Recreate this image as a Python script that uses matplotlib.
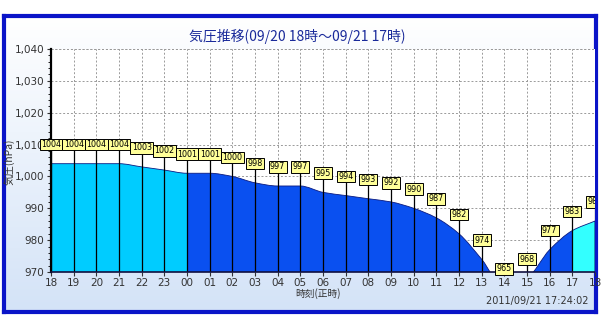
import numpy as np
import matplotlib
matplotlib.use('Agg')
import matplotlib.pyplot as plt
from matplotlib.path import Path
from matplotlib.patches import PathPatch, Rectangle

plt.rcParams['font.family'] = ['Noto Sans CJK JP', 'DejaVu Sans']

# hourly pressure, 09/20 18:00 -> 09/21 18:00
hour_labels = ['18', '19', '20', '21', '22', '23', '00', '01', '02', '03', '04', '05',
               '06', '07', '08', '09', '10', '11', '12', '13', '14', '15', '16', '17', '18']
pressure = [1004, 1004, 1004, 1004, 1003, 1002, 1001, 1001, 1000, 998, 997, 997,
            995, 994, 993, 992, 990, 987, 982, 974, 965, 968, 977, 983, 986]
ytick_values = [970, 980, 990, 1000, 1010, 1020, 1030, 1040]
ytick_labels = ['970', '980', '990', '1,000', '1,010', '1,020', '1,030', '1,040']

# colour bands: (start hour index, end hour index, colour)
bands = [(0, 6, '#00ccff'), (6, 23, '#0a50f0'), (23, 24, '#33ffff')]

title = '気圧推移(09/20 18時～09/21 17時)'
stamp = '2011/09/21 17:24:02'


def monotone_slopes(xs, ys):
    # Fritsch-Carlson tangents so flat runs stay flat
    xs = np.asarray(xs, float)
    ys = np.asarray(ys, float)
    d = np.diff(ys) / np.diff(xs)
    m = np.zeros_like(ys)
    m[0], m[-1] = d[0], d[-1]
    for i in range(1, len(ys) - 1):
        if d[i - 1] * d[i] > 0:
            m[i] = 2.0 / (1.0 / d[i - 1] + 1.0 / d[i])
    return m


def smooth_path(xs, ys, base):
    m = monotone_slopes(xs, ys)
    verts = [(xs[0], base), (xs[0], ys[0])]
    codes = [Path.MOVETO, Path.LINETO]
    for i in range(len(xs) - 1):
        h = xs[i + 1] - xs[i]
        verts += [(xs[i] + h / 3, ys[i] + m[i] * h / 3),
                  (xs[i + 1] - h / 3, ys[i + 1] - m[i + 1] * h / 3),
                  (xs[i + 1], ys[i + 1])]
        codes += [Path.CURVE4] * 3
    verts += [(xs[-1], base), (xs[0], base)]
    codes += [Path.LINETO, Path.CLOSEPOLY]
    return Path(verts, codes)


fig = plt.figure(figsize=(6.06, 3.33), dpi=100)

# framed panel with a soft white-to-blue gradient
bg = fig.add_axes([4 / 606, 21 / 333, 592 / 606, 296 / 333], zorder=-1)
grad = np.linspace(0, 1, 256).reshape(-1, 1)
top = np.array([1.0, 1.0, 1.0])
bot = np.array([0.83, 0.89, 0.97])
img = top + (bot - top) * grad[:, :, None]
bg.imshow(img, aspect='auto', extent=[0, 1, 0, 1], origin='upper')
bg.set_xticks([])
bg.set_yticks([])
for s in bg.spines.values():
    s.set_color('#0a14c8')
    s.set_linewidth(3)

ax = fig.add_axes([51 / 606, 61 / 333, 544 / 606, 223 / 333])
ax.set_facecolor('white')
x = np.arange(len(pressure))
ax.set_xlim(0, 24)
ax.set_ylim(970, 1040)

path = smooth_path(x, pressure, 950)
for x0, x1, col in bands:
    patch = PathPatch(path, facecolor=col, edgecolor='none', zorder=2)
    ax.add_patch(patch)
    patch.set_clip_path(Rectangle((x0, 970), x1 - x0, 70, transform=ax.transData))
edge = PathPatch(path, facecolor='none', edgecolor='#0a1a80', lw=0.6, zorder=2.5)
ax.add_patch(edge)
edge.set_clip_path(Rectangle((0, 970), 24, 70, transform=ax.transData))

# value tags on sticks
for xi, v in zip(x, pressure):
    ax.plot([xi, xi], [970, v + 6], color='black', lw=0.9, zorder=3)
    ax.text(xi, v + 6, str(v), ha='center', va='center', fontsize=5.8,
            family='DejaVu Sans', zorder=6, clip_on=(xi == x[-1]),
            bbox=dict(boxstyle='square,pad=0.16', fc='#ffff99', ec='black', lw=0.7))

ax.set_xticks(x)
ax.set_xticklabels(hour_labels)
ax.set_yticks(ytick_values)
ax.set_yticklabels(ytick_labels)
ax.set_yticks(np.arange(970, 1041, 2), minor=True)
ax.tick_params(axis='both', labelsize=7.5, labelcolor='#333333', colors='#333333',
               length=3, width=0.8, direction='out', pad=2)
ax.tick_params(axis='y', which='minor', length=2, width=0.6)
ax.tick_params(axis='x', pad=1)
for lab in ax.get_xticklabels() + ax.get_yticklabels():
    lab.set_family('DejaVu Sans')

ax.grid(True, color='#9a9a9a', lw=0.7, linestyle=(0, (2, 2)), zorder=0)
ax.set_axisbelow(True)
ax.spines['top'].set_visible(False)
ax.spines['right'].set_visible(False)
ax.spines['left'].set_color('black')
ax.spines['left'].set_linewidth(1.6)
ax.spines['bottom'].set_color('#101040')
ax.spines['bottom'].set_linewidth(1.2)
ax.spines['bottom'].set_linestyle((0, (2, 1)))
ax.spines['left'].set_zorder(5)
ax.spines['bottom'].set_zorder(5)
ax.axhline(1040, color='#9a9a9a', lw=0.7, linestyle=(0, (2, 2)), zorder=1)

fig.text(297 / 606, 1 - 36 / 333, title, ha='center', va='center',
         fontsize=10, color='#1a2a9a')
fig.text(10 / 606, 1 - 162 / 333, '気圧(hPa)', rotation=90, ha='center',
         va='center', fontsize=7.5, color='#333333')
fig.text(318 / 606, 1 - 294 / 333, '時刻(正時)', ha='center', va='center',
         fontsize=7, color='#333333')
fig.text(588 / 606, 1 - 301 / 333, stamp, ha='right', va='center',
         fontsize=7, color='#333333', family='DejaVu Sans')

fig.savefig('out.png', dpi=100)
